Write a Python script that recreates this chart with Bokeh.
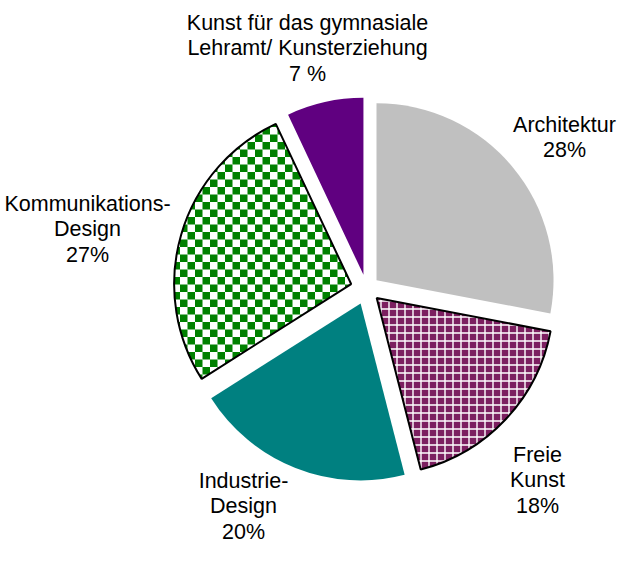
import math
from bokeh.plotting import figure
from bokeh.models import ColumnDataSource, Range1d
from bokeh.core.properties import value
from bokeh.embed import file_html
from bokeh.resources import INLINE

# ---- data ----
categories = ["Architektur", "Freie Kunst", "Industrie-Design",
              "Kommunikations-Design", "Kunst für das gymnasiale Lehramt/ Kunsterziehung"]
shares = [28, 18, 20, 27, 7]
label_texts = ["Architektur\n28%", "Freie\nKunst\n18%", "Industrie-\nDesign\n20%",
               "Kommunikations-\nDesign\n27%",
               "Kunst für das gymnasiale\nLehramt/ Kunsterziehung\n7 %"]

# ---- style / layout ----
fill_colors = ["#C0C0C0", "#7C1F60", "#008080", "#FFFFFF", "#600080"]
hatch_patterns = [" ", "+", " ", " ", " "]
checker_slice = [False, False, False, True, False]
checker_color = "#008000"
checker_period = 15
line_alphas = [0, 1, 0, 1, 0]
explode = [13, 14, 16, 16, 14]
label_pos_img = [(572, 145), (545, 488), (251, 514), (95, 237), (315, 56)]

W, H = 618, 546
IMG_H = 562
cx, cy = 374, IMG_H - 296
R = 177

total = sum(shares)
starts, ends, xs, ys = [], [], [], []
a = 90.0
for s, e in zip(shares, explode):
    sweep = 360.0 * s / total
    a_end = a - sweep
    mid = math.radians((a + a_end) / 2)
    xs.append(cx + e * math.cos(mid))
    ys.append(cy + e * math.sin(mid))
    starts.append(math.radians(a_end))
    ends.append(math.radians(a))
    a = a_end

src = ColumnDataSource(dict(x=xs, y=ys, start=starts, end=ends, fill=fill_colors,
                            hp=hatch_patterns, la=line_alphas, cat=categories))

p = figure(width=W, height=H, output_backend="svg", toolbar_location=None,
           x_range=Range1d(8, 8 + W), y_range=Range1d(IMG_H - 8 - H, IMG_H - 8),
           min_border=0, match_aspect=False)
p.axis.visible = False
p.grid.visible = False
p.outline_line_color = None
p.background_fill_color = "white"
p.border_fill_color = "white"

# base wedges (fill + built-in grid hatch)
p.wedge(x="x", y="y", radius=R, start_angle="start", end_angle="end", source=src,
        fill_color="fill", hatch_pattern="hp", hatch_color="white", hatch_scale=8,
        hatch_weight=1.4, line_color=None)


def clip(poly, clip_poly):
    # Sutherland-Hodgman, clip_poly convex & counter-clockwise
    out = poly
    n = len(clip_poly)
    for k in range(n):
        ax_, ay_ = clip_poly[k]
        bx_, by_ = clip_poly[(k + 1) % n]
        def inside(pt):
            return (bx_ - ax_) * (pt[1] - ay_) - (by_ - ay_) * (pt[0] - ax_) >= 0
        def inter(p1, p2):
            x1, y1 = p1; x2, y2 = p2
            dx, dy = x2 - x1, y2 - y1
            ex, ey = bx_ - ax_, by_ - ay_
            den = dx * ey - dy * ex
            t = ((ax_ - x1) * ey - (ay_ - y1) * ex) / den
            return (x1 + t * dx, y1 + t * dy)
        inp = out
        out = []
        if not inp:
            break
        prev = inp[-1]
        for cur in inp:
            if inside(cur):
                if not inside(prev):
                    out.append(inter(prev, cur))
                out.append(cur)
            elif inside(prev):
                out.append(inter(prev, cur))
            prev = cur
    return out


# checkerboard texture, clipped to its slice
px, py = [], []
for i in range(len(categories)):
    if not checker_slice[i]:
        continue
    ox, oy = xs[i], ys[i]
    a0, a1 = starts[i], ends[i]
    sector = [(ox, oy)]
    nseg = 90
    for k in range(nseg + 1):
        t = a0 + (a1 - a0) * k / nseg
        sector.append((ox + R * math.cos(t), oy + R * math.sin(t)))
    h = checker_period / 2
    xmin = min(q[0] for q in sector); xmax = max(q[0] for q in sector)
    ymin = min(q[1] for q in sector); ymax = max(q[1] for q in sector)
    i0 = int(math.floor(xmin / h)) - 1; i1 = int(math.ceil(xmax / h)) + 1
    j0 = int(math.floor(ymin / h)) - 1; j1 = int(math.ceil(ymax / h)) + 1
    for ii in range(i0, i1):
        for jj in range(j0, j1):
            if (ii + jj) % 2:
                continue
            sq = [(ii * h, jj * h), ((ii + 1) * h, jj * h),
                  ((ii + 1) * h, (jj + 1) * h), (ii * h, (jj + 1) * h)]
            c = clip(sq, sector)
            if len(c) >= 3:
                px.append([q[0] for q in c])
                py.append([q[1] for q in c])

p.patches(px, py, fill_color=checker_color, line_color=None)

# outlines on top
p.wedge(x="x", y="y", radius=R, start_angle="start", end_angle="end", source=src,
        fill_color=None, line_color="black", line_alpha="la", line_width=2)

lx = [q[0] for q in label_pos_img]
ly = [IMG_H - q[1] for q in label_pos_img]
lsrc = ColumnDataSource(dict(x=lx, y=ly, t=label_texts))
p.text(x="x", y="y", text="t", source=lsrc, text_align="center", text_baseline="middle",
       text_font=value("Liberation Sans"), text_font_size="21.5px", text_color="black",
       text_line_height=1.08)

open("out.html", "w").write(file_html(p, INLINE))
